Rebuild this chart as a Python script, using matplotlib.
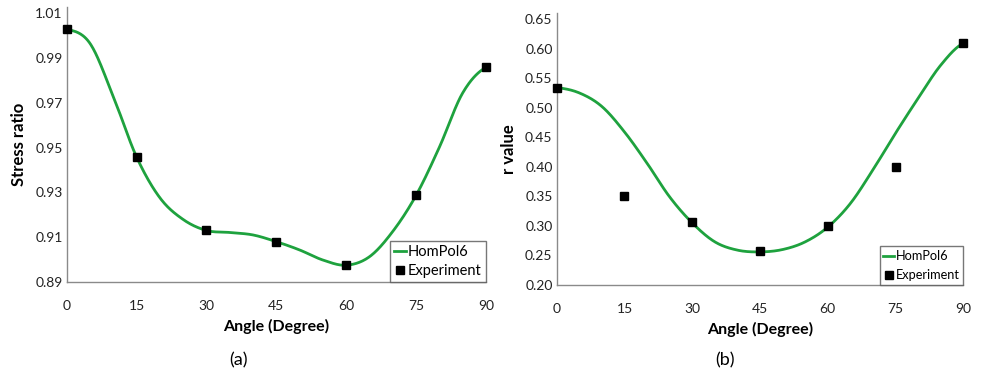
import numpy as np
import matplotlib
matplotlib.use("Agg")
import matplotlib.pyplot as plt

plt.rcParams['font.family'] = ['Lato', 'DejaVu Sans']

# ---- data ----
angles = [0, 15, 30, 45, 60, 75, 90]
stress_exp = [1.003, 0.946, 0.913, 0.908, 0.8975, 0.9287, 0.9858]
r_exp = [0.534, 0.350, 0.306, 0.258, 0.300, 0.400, 0.610]

curve_angles_a = [0, 5, 10, 15, 20, 25, 30, 35, 40, 45, 50, 55, 60, 65, 70, 75, 80, 85, 90]
stress_curve = [1.003, 0.9965, 0.9728, 0.9458, 0.9276, 0.9179, 0.913, 0.9121,
                0.911, 0.908, 0.9043, 0.8998, 0.8975, 0.9013, 0.9126, 0.9287, 0.9502, 0.9744, 0.9858]
curve_angles_b = [0, 5, 10, 15, 20, 25, 30, 35, 40, 45, 50, 55, 60, 65, 70, 75, 80, 85, 90]
r_curve = [0.534, 0.525, 0.502, 0.459, 0.406, 0.349, 0.305, 0.273, 0.259, 0.256, 0.260, 0.273,
           0.298, 0.338, 0.395, 0.457, 0.516, 0.572, 0.609]

xticks = [0, 15, 30, 45, 60, 75, 90]
yticks_a = [0.89, 0.91, 0.93, 0.95, 0.97, 0.99, 1.01]
yticks_b = [0.20, 0.25, 0.30, 0.35, 0.40, 0.45, 0.50, 0.55, 0.60, 0.65]

GREEN = '#1ea23e'
SPINE = '#8a8a8a'


def smooth(xs, ys, n=30):
    """Catmull-Rom smoothing for a smooth line drawing style."""
    x = np.asarray(xs, float)
    y = np.asarray(ys, float)
    px = np.concatenate([[2 * x[0] - x[1]], x, [2 * x[-1] - x[-2]]])
    py = np.concatenate([[y[0]], y, [y[-1]]])
    ox, oy = [], []
    for i in range(1, len(px) - 2):
        t = np.linspace(0, 1, n, endpoint=False)
        for arr, out in ((px, ox), (py, oy)):
            p0, p1, p2, p3 = arr[i - 1], arr[i], arr[i + 1], arr[i + 2]
            out.extend(0.5 * ((2 * p1) + (-p0 + p2) * t + (2 * p0 - 5 * p1 + 4 * p2 - p3) * t ** 2
                              + (-p0 + 3 * p1 - 3 * p2 + p3) * t ** 3))
    ox.append(x[-1]); oy.append(y[-1])
    return np.array(ox), np.array(oy)


fig = plt.figure(figsize=(9.81, 3.75), dpi=100)
axa = fig.add_axes([0.068, 0.248, 0.4274, 0.733])
axb = fig.add_axes([0.5675, 0.24, 0.4145, 0.725])


def style(ax, yticks, ylim, yfmt):
    ax.set_xlim(0, 90)
    ax.set_ylim(*ylim)
    ax.set_xticks(xticks)
    ax.set_yticks(yticks)
    ax.set_yticklabels([yfmt.format(v) for v in yticks])
    for s in ('top', 'right'):
        ax.spines[s].set_visible(False)
    for s in ('left', 'bottom'):
        ax.spines[s].set_color(SPINE)
        ax.spines[s].set_linewidth(1.0)
    ax.tick_params(length=0, labelsize=10, colors='#222222')
    ax.tick_params(axis='x', pad=13)
    ax.tick_params(axis='y', pad=3)
    ax.set_xlabel('Angle (Degree)', fontsize=11.5, fontweight='bold', labelpad=5)


# panel (a)
sx, sy = smooth(curve_angles_a, stress_curve)
axa.plot(sx, sy, color=GREEN, lw=2.0, label='HomPol6', zorder=2)
axa.plot(angles, stress_exp, 's', color='black', ms=6, label='Experiment', clip_on=False, zorder=3)
style(axa, yticks_a, (0.89, 1.0127), '{:.2f}')
axa.set_ylabel('Stress ratio', fontsize=12, fontweight='bold', labelpad=6)

# panel (b)
sx, sy = smooth(curve_angles_b, r_curve)
axb.plot(sx, sy, color=GREEN, lw=2.0, label='HomPol6', zorder=2)
axb.plot(angles, r_exp, 's', color='black', ms=6, label='Experiment', clip_on=False, zorder=3)
style(axb, yticks_b, (0.20, 0.66), '{:.2f}')
axb.set_ylabel('r value', fontsize=12, fontweight='bold', labelpad=6)

for ax, fs, sp in ((axa, 10.5, 0.3), (axb, 9.2, 0.55)):
    leg = ax.legend(loc='lower right', fontsize=fs, frameon=True, fancybox=False,
                    handlelength=0.8, handletextpad=0.15, borderpad=0.3, labelspacing=sp,
                    borderaxespad=0.0, markerscale=1.0)
    leg.get_frame().set_edgecolor('#555555')
    leg.get_frame().set_linewidth(1.0)

fig.text(238 / 981, 1 - 360 / 375, '(a)', fontsize=13, ha='center', va='center')
fig.text(725 / 981, 1 - 360 / 375, '(b)', fontsize=13, ha='center', va='center')

fig.savefig('out.png', dpi=100)
